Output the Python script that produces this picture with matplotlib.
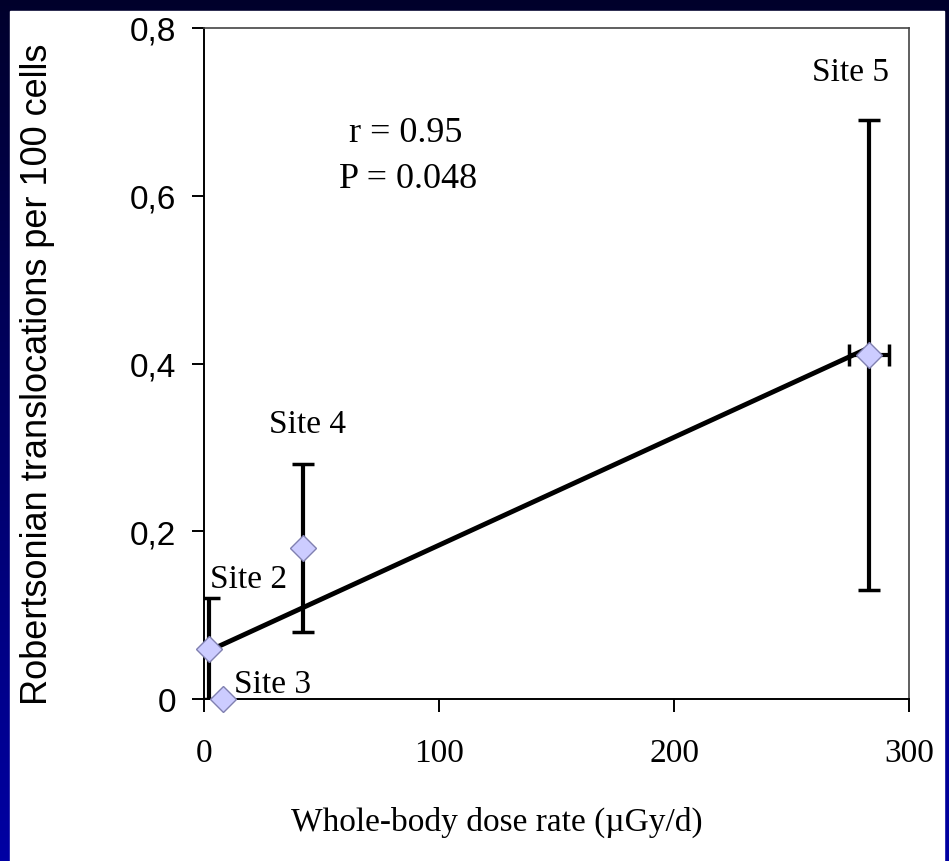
import matplotlib
matplotlib.use("Agg")
import matplotlib.pyplot as plt
import numpy as np
from matplotlib.patches import Rectangle

# Veriler
sites = ["Site 2", "Site 3", "Site 4", "Site 5"]
dose_rate = [2, 8, 42, 283]
rb_trans = [0.06, 0.0, 0.18, 0.41]
y_err = [0.06, 0.0, 0.10, 0.28]
x_err = [0, 0, 0, 8.5]

x_ticks = [0, 100, 200, 300]
y_ticks = [0, 0.2, 0.4, 0.6, 0.8]
y_tick_labels = ["0", "0,2", "0,4", "0,6", "0,8"]

r_text = "r = 0.95"
p_text = "P = 0.048"

W, H = 949, 862
fig = plt.figure(figsize=(W / 100, H / 100), dpi=100)

# Lacivert cerceve (yukaridan asagiya gecis)
bg = fig.add_axes([0, 0, 1, 1], zorder=-10)
grad = np.linspace(0, 1, 256).reshape(-1, 1)
top_c = np.array([0.0, 0.0, 0.17])
bot_c = np.array([0.0, 0.0, 0.64])
img = top_c + (bot_c - top_c) * grad[:, :, None]
bg.imshow(img, aspect="auto", extent=[0, W, 0, H], origin="upper")
bg.add_patch(Rectangle((10, 0), 934, H - 12, color="white"))
bg.set_xlim(0, W)
bg.set_ylim(0, H)
bg.axis("off")

# Grafik alani
ax = fig.add_axes([204 / W, 162 / H, 705 / W, 671 / H])
ax.set_xlim(0, 300)
ax.set_ylim(0, 0.8)
ax.patch.set_alpha(0)

# Hata cubuklari
ax.errorbar(dose_rate, rb_trans, yerr=y_err, xerr=x_err, fmt="none",
            ecolor="black", elinewidth=3, capsize=8, capthick=2.5, zorder=3)

# Regresyon dogrusu
slope, intercept = np.polyfit(dose_rate, rb_trans, 1)
xs = np.array([min(dose_rate), max(dose_rate)])
ax.plot(xs, slope * xs + intercept, color="black", lw=3.5, zorder=4)

# Noktalar
ax.plot(dose_rate, rb_trans, "D", ms=13, mfc="#ccccff", mec="#8080b0",
        mew=1, zorder=5, clip_on=False)

# Eksenler
for s in ["left", "bottom"]:
    ax.spines[s].set_color("black")
    ax.spines[s].set_linewidth(1.4)
for s in ["top", "right"]:
    ax.spines[s].set_color("#444444")
    ax.spines[s].set_linewidth(1.2)

ax.set_xticks(x_ticks)
ax.set_xticklabels([str(t) for t in x_ticks], family="Liberation Serif", fontsize=24)
ax.set_yticks(y_ticks)
ax.set_yticklabels(y_tick_labels, family="Liberation Sans", fontsize=24)
ax.tick_params(axis="both", direction="out", length=9, width=1.4, color="black")
ax.tick_params(axis="y", pad=11)
ax.tick_params(axis="x", pad=19)

# Eksen basliklari
fig.text(497 / W, (H - 822) / H, "Whole-body dose rate (\u00b5Gy/d)",
         family="Liberation Serif", fontsize=24, ha="center", va="center")
fig.text(38 / W, (H - 374) / H, "Robertsonian translocations per 100 cells",
         family="Liberation Sans", fontsize=26, rotation=90,
         ha="center", va="center")

# Etiketler
label_pos = [(19, 0.143), (29, 0.018), (44, 0.328), (275, 0.748)]
for name, (lx, ly) in zip(sites, label_pos):
    ax.text(lx, ly, name, family="Liberation Serif", fontsize=24,
            ha="center", va="center", zorder=6)

ax.text(86, 0.676, r_text, family="Liberation Serif", fontsize=26,
        ha="center", va="center")
ax.text(87, 0.621, p_text, family="Liberation Serif", fontsize=26,
        ha="center", va="center")

fig.savefig("out.png", dpi=100)
